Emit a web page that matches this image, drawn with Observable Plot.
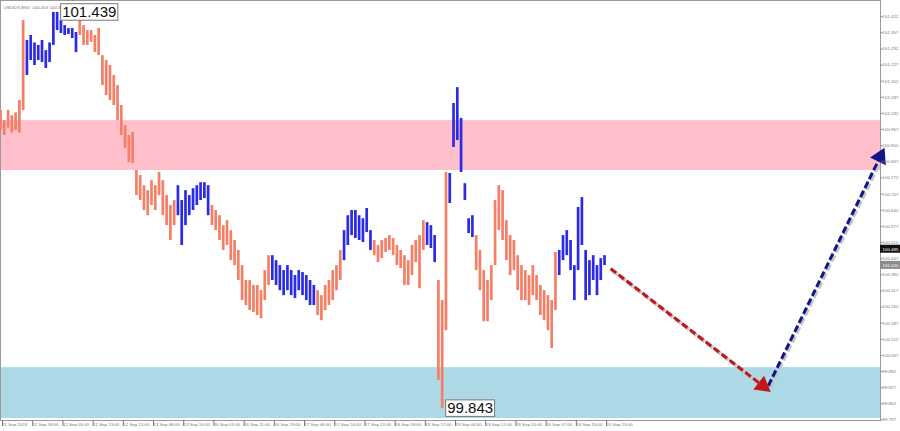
<!DOCTYPE html>
<html><head><meta charset="utf-8">
<script src="https://cdn.jsdelivr.net/npm/d3@7"></script>
<script src="https://cdn.jsdelivr.net/npm/@observablehq/plot@0.6"></script>
<style>body{margin:0;background:#fff;} svg{display:block}</style>
</head><body><div id="chart"></div>
<script>
// Bar highs / lows (one bar per hour)
const highs = [
101.044,101.003,101.044,101.023,101.034,101.084,101.406,
101.326,101.346,101.316,101.306,101.326,101.285,101.316,101.439,101.439,101.406,101.386,101.374,101.374,101.358,
101.427,101.386,101.366,101.366,101.346,101.374,101.265,101.245,101.225,101.185,101.144,101.064,100.983,100.943,100.955,100.802,100.782,100.741,100.721,100.761,100.741,100.794,100.761,100.701,100.661,100.681,
100.741,100.681,100.721,100.701,100.729,100.741,100.753,100.753,100.741,
100.661,100.641,100.620,100.580,100.600,100.560,100.520,100.480,100.419,100.359,100.359,100.339,100.339,100.318,100.399,100.459,
100.459,100.439,100.419,100.399,100.419,100.399,100.379,100.399,100.391,100.379,100.359,100.339,
100.318,100.298,100.339,100.359,100.399,100.419,100.480,
100.560,100.620,100.641,100.641,100.620,100.608,100.649,100.560,
100.520,100.500,100.520,100.528,100.540,100.528,100.500,100.480,100.459,100.439,100.500,100.520,100.540,100.600,
100.592,100.580,100.540,
100.359,100.278,100.794,
100.790,101.072,101.136,101.012,100.749,100.608,100.620,
100.540,100.480,100.399,100.359,100.419,100.681,100.741,100.721,100.600,100.540,100.520,100.459,100.419,100.399,100.379,100.419,100.379,100.339,100.318,100.298,100.278,100.472,
100.480,100.540,100.560,100.520,100.419,100.653,100.693,100.480,100.439,100.459,100.419,100.447,100.459
];
const lows = [
100.963,100.943,100.973,100.953,100.963,100.953,101.044,
101.185,101.245,101.225,101.245,101.237,101.213,101.237,101.306,101.366,101.354,101.346,101.350,101.334,101.277,
101.346,101.306,101.306,101.318,101.277,101.265,101.144,101.104,101.084,101.064,101.003,100.943,100.890,100.834,100.830,100.701,100.681,100.641,100.620,100.661,100.641,100.701,100.620,100.580,100.520,100.580,
100.620,100.500,100.580,100.620,100.641,100.661,100.681,100.689,100.620,
100.580,100.560,100.520,100.480,100.500,100.439,100.419,100.359,100.278,100.258,100.238,100.230,100.218,100.205,100.278,100.339,
100.359,100.339,100.318,100.298,100.318,100.298,100.286,100.318,100.298,100.278,100.258,100.258,
100.218,100.197,100.238,100.258,100.278,100.318,100.359,
100.439,100.500,100.540,100.528,100.520,100.512,100.552,100.480,
100.459,100.431,100.447,100.472,100.480,100.459,100.419,100.407,100.339,100.339,100.379,100.431,100.326,100.480,
100.500,100.488,100.431,
99.956,99.843,100.157,
100.669,100.895,100.923,100.794,100.681,100.548,100.532,
100.399,100.318,100.193,100.193,100.278,100.419,100.560,100.520,100.439,100.379,100.399,100.318,100.278,100.278,100.258,100.298,100.278,100.218,100.197,100.157,100.085,100.238,
100.379,100.439,100.459,100.399,100.278,100.399,100.500,100.278,100.298,100.359,100.298,100.359,100.419
];
// Wave segments: first bar index of each wave and its kind
const waveStarts = [0, 7, 21, 47, 56, 72, 84, 91, 99, 113, 116, 119, 126, 148];
const waveKinds  = ["down","up","down","up","down","up","down","up","down","up","down","up","down","up"];

// Axis labels
const timeLabels = ["11 Sep 2024","11 Sep 18:00","12 Sep 05:00","12 Sep 13:00","12 Sep 21:00","13 Sep 08:00","13 Sep 16:00","16 Sep 03:00","16 Sep 11:00","16 Sep 19:00","17 Sep 06:00","17 Sep 14:00","17 Sep 22:00","18 Sep 09:00","18 Sep 17:00","19 Sep 04:00","19 Sep 12:00","19 Sep 20:00","20 Sep 07:00","20 Sep 15:00","20 Sep 23:00"];
const barsPerLabel = 8;
const priceTicks = [99.797,99.862,99.927,99.992,100.057,100.122,100.187,100.252,100.317,100.382,100.447,100.512,100.577,100.642,100.707,100.772,100.837,100.902,100.967,101.032,101.097,101.162,101.227,101.292,101.357,101.422];

// Zones, marked extremes, forecast, current prices
const resistanceZone = [100.802, 101.003];
const supportZone = [99.803, 100.008];
const extremeBars = [15, 117];
const extremePrices = [101.439, 99.843];
const forecastDownX = [161.6, 201.9];
const forecastDownY = [100.407, 99.935];
const forecastUpX = [203.4, 233.0];
const forecastUpY = [99.935, 100.857];
const priceMarks = [100.485, 100.420];
const headerText = "USDIDX,M30  100.453 100.485 100.410 100.420";

const SALMON = "#f47f66", BLUE = "#2b2be6";
const W = 900, H = 431, mR = 20, mB = 11;
const xDomain = [0, 233.1], yDomain = [99.795, 101.487];

const bars = highs.map((h, i) => {
  let w = 0;
  for (let k = 0; k < waveStarts.length; k++) if (i >= waveStarts[k]) w = k;
  return {i, hi: h, lo: lows[i], kind: waveKinds[w]};
});

const sx = Plot.scale({x: {domain: xDomain, range: [0, W - mR]}});
const sy = Plot.scale({y: {domain: yDomain, range: [H - mB, 0]}});
function headAngle(x, y) {
  const dx = sx.apply(x[1]) - sx.apply(x[0]);
  const dy = sy.apply(y[1]) - sy.apply(y[0]);
  return Math.atan2(dy, dx) * 180 / Math.PI + 90;
}
const arrows = [
  {x1: forecastDownX[0], y1: forecastDownY[0], x2: forecastDownX[1], y2: forecastDownY[1], c: "#c0161c", rot: headAngle(forecastDownX, forecastDownY)},
  {x1: forecastUpX[0], y1: forecastUpY[0], x2: forecastUpX[1], y2: forecastUpY[1], c: "#14148c", rot: headAngle(forecastUpX, forecastUpY)}
];
const extremes = extremeBars.map((b, k) => ({i: b, p: extremePrices[k], t: extremePrices[k].toFixed(3)}));
const xEdge0 = sx.invert(W - mR), xEdge1 = sx.invert(W);
const halfH = sy.invert(0) - sy.invert(4);
const marks = priceMarks.map((p, k) => ({p, bg: k === 0 ? "#111" : "#8a8a8a"}));

const chart = Plot.plot({
  width: W, height: H,
  marginLeft: 0, marginRight: mR, marginTop: 0, marginBottom: mB,
  x: {domain: xDomain, axis: null},
  y: {domain: yDomain, axis: null},
  style: {fontFamily: "Liberation Sans, Arial, sans-serif", background: "#fff"},
  marks: [
    Plot.rect([resistanceZone], {x1: xDomain[0], x2: xDomain[1], y1: d => d[0], y2: d => d[1], fill: "#ffc0cb"}),
    Plot.rect([supportZone], {x1: xDomain[0], x2: xDomain[1], y1: d => d[0], y2: d => d[1], fill: "#add8e6"}),
    Plot.frame({stroke: "#9a9a9a"}),
    Plot.ruleX(bars, {x: "i", y1: "lo", y2: "hi", stroke: d => d.kind === "up" ? BLUE : SALMON, strokeWidth: 2.7}),
    // forecast arrows: shadow, dashed shaft, filled head
    Plot.link(arrows, {x1: "x1", y1: "y1", x2: "x2", y2: "y2", stroke: "#c4c4c4", strokeWidth: 4, strokeDasharray: "7,3", dx: 1.5, dy: 1.5}),
    Plot.link(arrows, {x1: "x1", y1: "y1", x2: "x2", y2: "y2", stroke: "c", strokeWidth: 3, strokeDasharray: "7,3"}),
    Plot.dot(arrows, {x: "x2", y: "y2", symbol: "triangle", r: 6.5, fill: "c", stroke: "none", rotate: "rot"}),
    // right price axis
    Plot.axisY(priceTicks, {anchor: "right", tickSize: 1.5, tickPadding: 0.5, fontSize: 4.4, color: "#777", tickFormat: d3.format(".3f")}),
    Plot.rect(marks, {x1: xEdge0, x2: xEdge1, y1: d => d.p - halfH, y2: d => d.p + halfH, fill: "bg"}),
    Plot.text(marks, {x: xDomain[1], y: "p", text: d => d.p.toFixed(3), textAnchor: "start", dx: 2, fontSize: 4.4, fill: "#fff"}),
    // bottom time axis
    Plot.axisX(timeLabels.map((_, k) => k * barsPerLabel), {anchor: "bottom", tickSize: 6, tickPadding: -4, textAnchor: "start", dx: 2, fontSize: 4.4, color: "#777", tickFormat: d => timeLabels[d / barsPerLabel]}),
    Plot.text([headerText], {frameAnchor: "top-left", text: d => d, dx: 3, dy: 5, fontSize: 4.4, fill: "#777"}),
    // extreme labels
    Plot.text(extremes, {x: "i", y: "p", text: "t", textAnchor: "start", dx: 5, fontSize: 15, fill: "#111"})
  ]
});
document.getElementById("chart").appendChild(chart);
// boxes around the extreme labels
const extremeTexts = new Set(extremes.map(d => d.t));
chart.querySelectorAll("text").forEach(t => {
  if (!extremeTexts.has(t.textContent.trim())) return;
  if (t.getAttribute("font-size") !== null && +t.getAttribute("font-size") < 10) return;
  const b = t.getBBox();
  if (b.height < 10) return;
  const r = document.createElementNS("http://www.w3.org/2000/svg", "rect");
  r.setAttribute("x", b.x - 1.5); r.setAttribute("y", b.y + 0.5);
  r.setAttribute("width", b.width + 3); r.setAttribute("height", b.height - 0.5);
  r.setAttribute("fill", "#fff"); r.setAttribute("stroke", "#777"); r.setAttribute("stroke-width", 1);
  ["transform", "x", "y"].forEach(a => { if (a === "transform" && t.getAttribute(a)) r.setAttribute(a, t.getAttribute(a)); });
  t.parentNode.insertBefore(r, t);
});
</script>
</body></html>
